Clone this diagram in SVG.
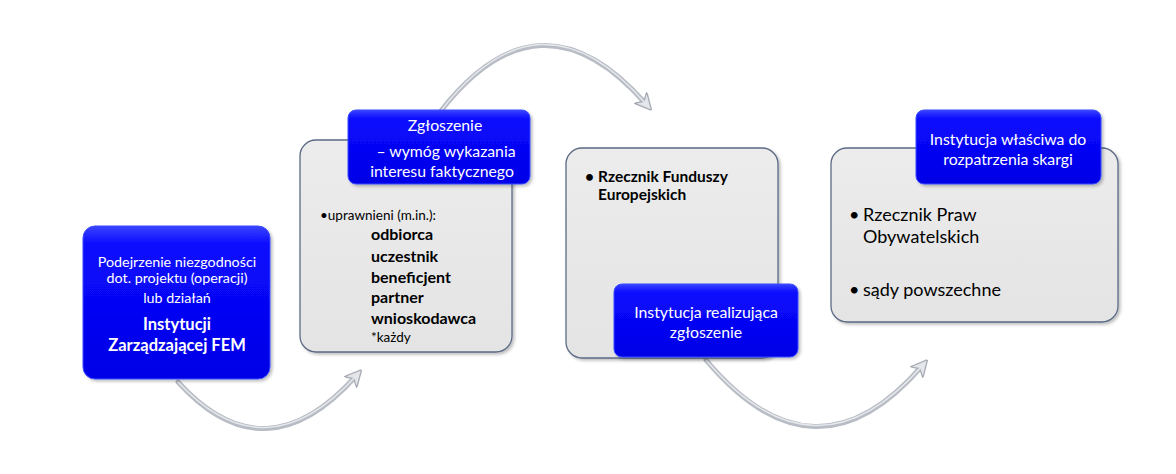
<svg xmlns="http://www.w3.org/2000/svg" width="1176" height="474" viewBox="0 0 1176 474">
<defs>
<linearGradient id="blue" x1="0" y1="0" x2="0" y2="1">
<stop offset="0" stop-color="#3a44ff"/>
<stop offset="0.12" stop-color="#0a0aff"/>
<stop offset="1" stop-color="#0000e6"/>
</linearGradient>
<linearGradient id="gray" x1="0" y1="0" x2="0" y2="1">
<stop offset="0" stop-color="#ececec"/>
<stop offset="1" stop-color="#e4e4e4"/>
</linearGradient>
<marker id="ah" viewBox="0 0 10 10" refX="5" refY="5" markerWidth="3.4" markerHeight="3.4" orient="auto" markerUnits="strokeWidth">
<path d="M0,0 L10,5 L0,10 L3,5 Z" fill="#e4e6ea" stroke="#a9adb6" stroke-width="0.8"/>
</marker>
<filter id="sh" x="-10%" y="-10%" width="125%" height="125%">
<feDropShadow dx="2" dy="2" stdDeviation="1.5" flood-color="#000" flood-opacity="0.25"/>
</filter>
</defs>
<style>
.b{fill:url(#blue);stroke:#3a4cff;stroke-width:1;filter:url(#sh)}
.g{fill:url(#gray);stroke:#5b6a85;stroke-width:1.3;filter:url(#sh)}
text{font-family:Lato,"Open Sans","Liberation Sans",sans-serif}
.w{fill:#fff}
.k{fill:#000}
.bd{font-weight:bold}
.arr{fill:none;stroke:#b8bcc5;stroke-width:5;stroke-linecap:round}
.arrh{fill:none;stroke:#e6e8ec;stroke-width:1.5}
</style>
<g id="connectors">
<path class="arr" d="M178 382 Q265 478 356 376" marker-end="url(#ah)"/>
<path class="arrh" d="M178 382 Q265 476 356 376"/>
<path class="arr" d="M440 112 Q540 -17 646 104" marker-end="url(#ah)"/>
<path class="arrh" d="M440 112 Q540 -19 646 104"/>
<path class="arr" d="M706 360 Q815 490 922 366" marker-end="url(#ah)"/>
<path class="arrh" d="M706 360 Q815 488 922 366"/>
</g>
<g id="node1">
<rect class="b" x="83" y="226" width="187" height="153" rx="12"/>
<text class="w" text-anchor="middle" font-size="14.3"><tspan x="177" y="267">Podejrzenie niezgodności</tspan><tspan x="177" y="283">dot. projektu (operacji)</tspan><tspan x="177" y="303">lub działań</tspan></text>
<text class="w bd" text-anchor="middle" font-size="16.5"><tspan x="177" y="330">Instytucji</tspan><tspan x="177" y="351">Zarządzającej FEM</tspan></text>
</g>
<g id="node2">
<rect class="g" x="300" y="140" width="212" height="212" rx="16"/>
<rect class="b" x="348" y="110" width="182" height="74" rx="8"/>
<text class="w" text-anchor="middle" font-size="15.8"><tspan x="445" y="131">Zgłoszenie</tspan><tspan x="446" y="157">– wymóg wykazania</tspan><tspan x="442" y="177">interesu faktycznego</tspan></text>
<text class="k" font-size="13.5" x="320" y="220">•uprawnieni (m.in.):</text>
<text class="k bd" font-size="16"><tspan x="371" y="240">odbiorca</tspan><tspan x="371" y="262">uczestnik</tspan><tspan x="371" y="283">beneficjent</tspan><tspan x="371" y="303">partner</tspan><tspan x="371" y="324">wnioskodawca</tspan></text>
<text class="k" font-size="13.5" x="371" y="342">*każdy</text>
</g>
<g id="node3">
<rect class="g" x="566" y="148" width="212" height="210" rx="16"/>
<text class="k bd" font-size="15.5"><tspan x="585" y="182">•</tspan><tspan x="598" y="182">Rzecznik Funduszy</tspan><tspan x="598" y="200">Europejskich</tspan></text>
<rect class="b" x="614" y="284" width="184" height="73" rx="8"/>
<text class="w" text-anchor="middle" font-size="15.8"><tspan x="706" y="318">Instytucja realizująca</tspan><tspan x="706" y="338">zgłoszenie</tspan></text>
</g>
<g id="node4">
<rect class="g" x="831" y="148" width="287" height="174" rx="16"/>
<rect class="b" x="916" y="110" width="185" height="74" rx="8"/>
<text class="w" text-anchor="middle" font-size="15.8"><tspan x="1008" y="145">Instytucja właściwa do</tspan><tspan x="1008" y="165">rozpatrzenia skargi</tspan></text>
<text class="k" font-size="18"><tspan x="849" y="221">•</tspan><tspan x="863" y="221">Rzecznik Praw</tspan><tspan x="863" y="243">Obywatelskich</tspan><tspan x="849" y="296">•</tspan><tspan x="863" y="296">sądy powszechne</tspan></text>
</g>
</svg>
